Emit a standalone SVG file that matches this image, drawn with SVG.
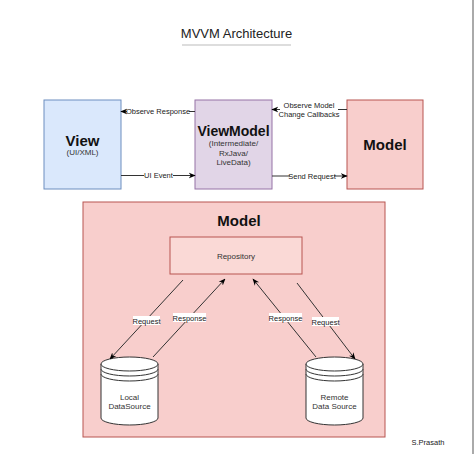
<svg xmlns="http://www.w3.org/2000/svg" width="474" height="454" viewBox="0 0 474 454">
<defs>
<marker id="ah" viewBox="0 0 10 10" refX="9" refY="5" markerWidth="7" markerHeight="7" orient="auto-start-reverse" markerUnits="userSpaceOnUse">
<path d="M0,1 L10,5 L0,9 L3,5 Z" fill="#000"/>
</marker>
</defs>
<style>
text{font-family:"Liberation Sans",Arial,sans-serif;fill:#111;}
.big{font-size:15px;font-weight:bold;}
.sm{font-size:8px;fill:#333;}
.lbl{font-size:7.5px;fill:#222;}
.edge{stroke:#333;stroke-width:1;fill:none;marker-end:url(#ah);}
.lb{fill:#fff;}
.cyl{fill:#fff;stroke:#333;stroke-width:1;}
</style>
<rect width="474" height="454" fill="#fff"/>
<line x1="473" y1="0" x2="473" y2="454" stroke="#aaa" stroke-width="2"/>

<g id="title">
<text x="236.5" y="38" text-anchor="middle" style="font-size:13px;fill:#222">MVVM Architecture</text>
<line x1="182" y1="45" x2="291" y2="45" stroke="#bbb" stroke-width="1"/>
</g>

<g id="view">
<rect x="44" y="100" width="77" height="89" fill="#dae8fc" stroke="#6c8ebf"/>
<text class="big" x="82.5" y="146" text-anchor="middle">View</text>
<text class="sm" x="82.5" y="155" text-anchor="middle">(UI/XML)</text>
</g>

<g id="viewmodel">
<rect x="195" y="100" width="77" height="89" fill="#e1d5e7" stroke="#9673a6"/>
<text class="big" x="233.5" y="136" text-anchor="middle" style="font-size:14px">ViewModel</text>
<text class="sm" x="233.5" y="146" text-anchor="middle">(Intermediate/</text>
<text class="sm" x="233.5" y="156" text-anchor="middle">RxJava/</text>
<text class="sm" x="233.5" y="165" text-anchor="middle">LiveData)</text>
</g>

<g id="model">
<rect x="347" y="100" width="76" height="89" fill="#f8cecc" stroke="#b85450"/>
<text class="big" x="385" y="150" text-anchor="middle">Model</text>
</g>

<g id="model-container">
<rect x="83" y="202" width="302" height="235" fill="#f8cecc" stroke="#b85450"/>
<text class="big" x="239" y="226" text-anchor="middle">Model</text>
</g>

<g id="repository">
<rect x="170" y="237" width="132" height="37" fill="#fad9d6" stroke="#b85450"/>
<text class="sm" x="236" y="259" text-anchor="middle">Repository</text>
</g>

<g id="local">
<path class="cyl" d="M101,364 A28.5,7 0 0 1 158,364 L158,418 A28.5,7 0 0 1 101,418 Z"/>
<path class="cyl" fill="none" d="M101,364 A28.5,7 0 0 0 158,364 M101,369 A28.5,7 0 0 0 158,369 M101,374 A28.5,7 0 0 0 158,374"/>
<text class="sm" x="129.5" y="400" text-anchor="middle">Local</text>
<text class="sm" x="129.5" y="409" text-anchor="middle">DataSource</text>
</g>

<g id="remote">
<path class="cyl" d="M306,364 A28.5,7 0 0 1 363,364 L363,418 A28.5,7 0 0 1 306,418 Z"/>
<path class="cyl" fill="none" d="M306,364 A28.5,7 0 0 0 363,364 M306,369 A28.5,7 0 0 0 363,369 M306,374 A28.5,7 0 0 0 363,374"/>
<text class="sm" x="334.5" y="400" text-anchor="middle">Remote</text>
<text class="sm" x="334.5" y="409" text-anchor="middle">Data Source</text>
</g>

<g id="connectors">
<line class="edge" x1="195" y1="111.5" x2="121" y2="111.5"/>
<rect class="lb" x="127" y="107" width="62" height="9"/>
<text class="lbl" x="158" y="114" text-anchor="middle">Observe Response</text>

<line class="edge" x1="121" y1="175.5" x2="195" y2="175.5"/>
<rect class="lb" x="144" y="171" width="29" height="9"/>
<text class="lbl" x="158.5" y="178" text-anchor="middle">UI Event</text>

<line class="edge" x1="347" y1="109.5" x2="272" y2="109.5"/>
<rect class="lb" x="280" y="101" width="58" height="18"/>
<text class="lbl" x="309" y="108" text-anchor="middle">Observe Model</text>
<text class="lbl" x="309" y="117" text-anchor="middle">Change Callbacks</text>

<line class="edge" x1="272" y1="176" x2="347" y2="176"/>
<rect class="lb" x="290" y="172" width="44" height="9"/>
<text class="lbl" x="312" y="179" text-anchor="middle">Send Request</text>

<line class="edge" x1="183" y1="280" x2="110" y2="359"/>
<rect class="lb" x="133" y="316" width="27" height="9"/>
<text class="lbl" x="146.5" y="323.5" text-anchor="middle">Request</text>

<line class="edge" x1="153" y1="357" x2="225" y2="279"/>
<rect class="lb" x="173" y="313" width="33" height="9"/>
<text class="lbl" x="189.5" y="320.5" text-anchor="middle">Response</text>

<line class="edge" x1="316" y1="357" x2="253" y2="279"/>
<rect class="lb" x="269" y="313" width="33" height="9"/>
<text class="lbl" x="285.5" y="320.5" text-anchor="middle">Response</text>

<line class="edge" x1="297" y1="283" x2="355" y2="359"/>
<rect class="lb" x="312" y="317" width="27" height="9"/>
<text class="lbl" x="325.5" y="324.5" text-anchor="middle">Request</text>
</g>

<g id="credit">
<text class="lbl" x="428" y="445" text-anchor="middle">S.Prasath</text>
</g>
</svg>
